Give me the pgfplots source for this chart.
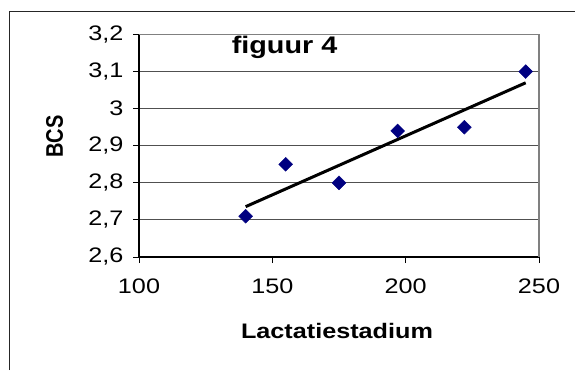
\documentclass[border=0pt]{standalone}
\usepackage{fontspec}
\setmainfont{Liberation Sans}[FakeStretch=1.2]
\newfontfamily\plainsans{Liberation Sans}
\usepackage{graphicx}
\usepackage{pgfplots}
\pgfplotsset{compat=1.18}
\definecolor{navy}{RGB}{0,0,128}
\definecolor{gridgray}{RGB}{80,80,80}
\definecolor{framegray}{RGB}{128,128,128}

\begin{document}
\begin{tikzpicture}
\begin{axis}[
  at={(139pt,-257pt)}, anchor=south west,
  width=400pt, height=222.5pt, scale only axis,
  xmin=100, xmax=250, ymin=2.6, ymax=3.2,
  axis x line*=bottom, axis y line*=left,
  axis line style={black, line width=1.2pt},
  xtick={100,150,200,250},
  ytick={2.6,2.7,2.8,2.9,3.0,3.1,3.2},
  tick align=outside, major tick length=6pt,
  tick style={black, line width=1pt},
  ymajorgrids, major grid style={gridgray, line width=0.9pt},
  /pgf/number format/assume math mode=true,
  yticklabel style={xshift=-6pt, /pgf/number format/.cd, use comma, fixed, precision=1},
  xticklabel style={yshift=-12pt},
  ticklabel style={font=\fontsize{21}{25}\selectfont},
  xlabel={\bfseries\fontsize{21}{25}\selectfont Lactatiestadium},
  xlabel style={at={(axis description cs:0.495,-0.333)}, anchor=center},
  ylabel={\plainsans\bfseries\fontsize{20}{24}\selectfont\scalebox{1}[1.2]{BCS}},
  ylabel style={at={(axis description cs:-0.211,0.5416)}, anchor=center},
  clip=false,
]
% plot area border on the top and right
\draw[framegray, line width=1.2pt] (rel axis cs:0,1) -- (rel axis cs:1,1) -- (rel axis cs:1,0);

% linear trend
\addplot[black, line width=3pt, no marks] coordinates {(140,2.7358) (245,3.0698)};

% measurements
\addplot[only marks, mark=square*, mark size=4.9pt,
  mark options={rotate=45, fill=navy, draw=navy}] coordinates {
  (140,2.71) (155,2.85) (175,2.80) (197,2.94) (222,2.95) (245,3.10)
};

\node[anchor=base, font=\bfseries\fontsize{24}{28}\selectfont]
  at (axis description cs:0.364,0.9155) {figuur 4};
\end{axis}
% chart frame
\draw[black!85, line width=1pt] (9.5pt,-370pt) -- (9.5pt,-11pt) -- (575pt,-11pt);
\pgfresetboundingbox
\path[use as bounding box] (0pt,0pt) rectangle (575pt,-370pt);
\end{tikzpicture}
\end{document}
